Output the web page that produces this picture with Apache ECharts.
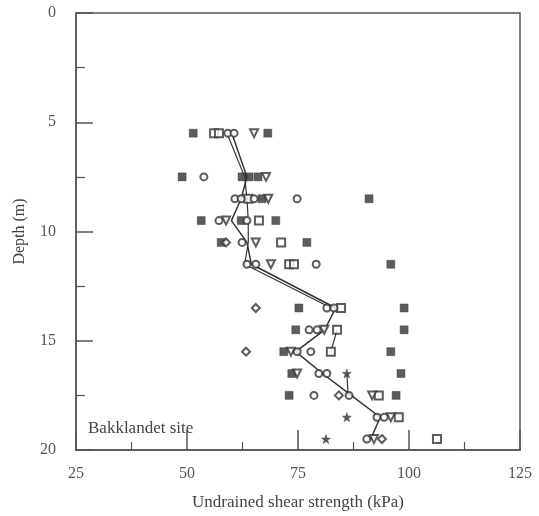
<!DOCTYPE html>
<html>
<head>
<meta charset="utf-8">
<script src="https://cdn.jsdelivr.net/npm/echarts@6/dist/echarts.min.js"></script>
<style>html,body{margin:0;padding:0;background:#fff}#c{width:539px;height:516px}</style>
</head>
<body>
<div id="c"></div>
<script>
// Data: [undrained shear strength (kPa), depth (m)]
var filledSquares = [
  [51.4,5.5],[68.2,5.5],
  [48.9,7.5],[62.4,7.5],[64.0,7.5],[66.0,7.5],
  [66.9,8.5],[91.0,8.5],
  [53.2,9.5],[62.2,9.5],[70.0,9.5],
  [57.7,10.5],[77.0,10.5],
  [95.9,11.5],
  [75.2,13.5],[98.9,13.5],
  [74.5,14.5],[98.9,14.5],
  [71.8,15.5],[95.9,15.5],
  [73.6,16.5],[98.2,16.5],
  [73.0,17.5],[97.1,17.5]
];
var openSquares = [
  [56.1,5.5],[57.2,5.5],
  [63.8,8.5],
  [66.2,9.5],
  [71.2,10.5],
  [73.0,11.5],[74.1,11.5],
  [84.7,13.5],
  [83.8,14.5],
  [82.4,15.5],
  [93.2,17.5],
  [97.7,18.5],
  [106.3,19.5]
];
var openCircles = [
  [59.2,5.5],[60.6,5.5],
  [53.8,7.5],
  [60.8,8.5],[62.2,8.5],[65.1,8.5],[74.8,8.5],
  [57.2,9.5],[63.5,9.5],
  [62.4,10.5],
  [63.5,11.5],[65.5,11.5],[79.1,11.5],
  [81.5,13.5],[83.1,13.5],
  [77.5,14.5],[79.3,14.5],
  [74.8,15.5],[77.9,15.5],
  [79.7,16.5],[81.5,16.5],
  [78.6,17.5],[86.5,17.5],
  [92.8,18.5],[94.4,18.5],
  [90.5,19.5]
];
var downTriangles = [
  [65.1,5.5],
  [67.8,7.5],
  [68.3,8.5],
  [58.8,9.5],
  [65.5,10.5],
  [68.9,11.5],
  [80.9,14.5],
  [73.4,15.5],
  [74.8,16.5],
  [91.7,17.5],
  [95.9,18.5],
  [92.1,19.5]
];
var diamonds = [
  [58.8,10.5],
  [65.5,13.5],
  [63.3,15.5],
  [84.2,17.5],
  [93.9,19.5]
];
var stars = [
  [86.0,16.5],
  [86.0,18.5],
  [81.3,19.5]
];
var meanLine = [
  [60.1,5.5],[63.5,7.5],[62.2,8.5],[60.0,9.5],[63.5,10.5],[64.5,11.5],
  [83.5,13.5],[81.0,14.5],[74.5,15.5],[80.5,16.5],[87.0,17.5],[93.5,18.5],[91.4,19.5]
];
var secondLine = [
  [59.0,5.5],[63.0,7.5],[63.5,8.5],[63.8,9.5],[63.8,10.5],[63.0,11.5],[82.5,13.5],
  null,
  [83.8,14.5],[82.4,15.5],
  null,
  [86.0,16.5],[86.3,17.5]
];
var xTicks = [25,50,75,100,125];
var yTicks = [0,5,10,15,20];

var ink = '#333';
var starPath = 'path://M0,-10 L2.4,-3.3 9.5,-3.1 3.8,1.2 5.9,8.1 0,4 -5.9,8.1 -3.8,1.2 -9.5,-3.1 -2.4,-3.3Z';
function scat(data, symbol, size, filled, rot){
  return {
    type:'scatter', data:data, symbol:symbol, symbolSize:size, symbolRotate:rot||0,
    itemStyle:{color: filled?ink:'#fff', borderColor:ink, borderWidth: filled?0.5:2},
    z:3, silent:true
  };
}
var chart = echarts.init(document.getElementById('c'));
chart.setOption({
  animation:false,
  backgroundColor:'#fff',
  grid:{left:76, top:13, right:19, bottom:63, show:true, borderColor:'#555', borderWidth:1.5, backgroundColor:'transparent'},
  xAxis:{
    type:'value', min:xTicks[0], max:xTicks[xTicks.length-1], interval:25, position:'bottom',
    name:'Undrained shear strength (kPa)', nameLocation:'middle', nameGap:44,
    nameTextStyle:{fontFamily:'Liberation Serif', fontSize:17, color:'#444'},
    axisLine:{show:true, onZero:false, lineStyle:{color:'#555', width:1.5}},
    axisTick:{show:true, inside:true, length:20, lineStyle:{color:'#555', width:1.5}},
    minorTick:{show:true, splitNumber:2, length:8, lineStyle:{color:'#555', width:1.2}},
    axisLabel:{fontFamily:'Liberation Serif', fontSize:16, color:'#555', margin:16},
    splitLine:{show:false}
  },
  yAxis:{
    type:'value', inverse:true, min:yTicks[0], max:yTicks[yTicks.length-1], interval:5, position:'left',
    name:'Depth (m)', nameLocation:'middle', nameGap:48, nameRotate:90,
    nameTextStyle:{fontFamily:'Liberation Serif', fontSize:16, color:'#444'},
    axisLine:{show:true, onZero:false, lineStyle:{color:'#555', width:1.5}},
    axisTick:{show:true, inside:true, length:17, lineStyle:{color:'#555', width:1.5}},
    minorTick:{show:true, splitNumber:2, length:9, lineStyle:{color:'#555', width:1.2}},
    axisLabel:{fontFamily:'Liberation Serif', fontSize:16, color:'#555', margin:20},
    splitLine:{show:false}
  },
  graphic:[{type:'text', left:88, top:420, style:{text:'Bakklandet site', font:'17px "Liberation Serif"', fill:'#444'}}],
  series:[
    {type:'line', data:meanLine, symbol:'none', lineStyle:{color:ink, width:1.5}, z:2, silent:true},
    {type:'line', data:secondLine, symbol:'none', connectNulls:false, lineStyle:{color:ink, width:1.2}, z:2, silent:true},
    scat(filledSquares,'rect',8,true),
    scat(openSquares,'rect',8,false),
    scat(openCircles,'circle',7,false),
    scat(downTriangles,'triangle',8,false,180),
    scat(diamonds,'diamond',8,false),
    scat(stars,starPath,9,true)
  ]
});
</script>
</body>
</html>
